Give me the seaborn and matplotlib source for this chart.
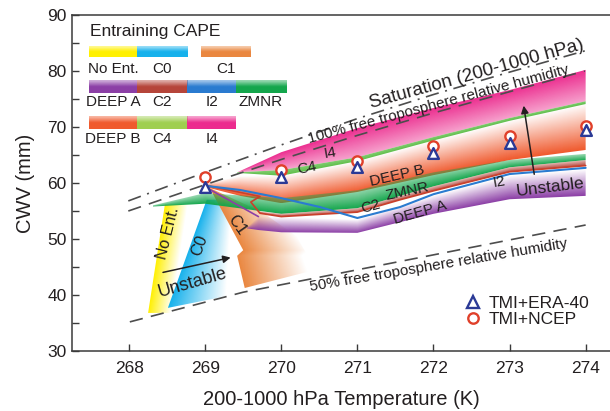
import numpy as np
import pandas as pd
import matplotlib
matplotlib.use("Agg")
import matplotlib.pyplot as plt
import seaborn as sns
from matplotlib.patches import Polygon
from matplotlib.colors import to_rgb
from matplotlib.lines import Line2D

# ---------------- data ----------------
T_OBS = [269, 270, 271, 272, 273, 274]
CWV_ERA40 = [59.3, 61.1, 62.9, 65.4, 67.1, 69.5]
CWV_NCEP = [61.1, 62.3, 63.9, 66.6, 68.4, 70.2]

SAT_T = [267.99, 269, 270, 271, 272, 273, 273.99]
SAT_CWV = [56.8, 61.9, 66.8, 71.5, 75.8, 79.8, 83.6]
RH100_T = [267.99, 269, 270, 271, 272, 273, 273.99]
RH100_CWV = [55.0, 59.7, 64.2, 68.5, 72.5, 76.3, 80.0]
RH50_T = [268.01, 269.5, 274.0]
RH50_CWV = [35.2, 40.5, 52.5]

# bands along temperature: (T, lower CWV, upper CWV)
I4_T = [269.42, 270, 271, 272, 273, 274]
I4_LO = [61.9, 62.3, 64.6, 68.2, 71.6, 74.6]
I4_HI = [61.9, 65.5, 69.8, 73.4, 76.6, 80.2]
C4_LO = [61.8, 61.3, 63.9, 67.6, 71.1, 74.1]

DB_T = [269, 269.46, 270, 271, 272, 273, 274]
DB_LO = [59.3, 57.7, 56.4, 58.4, 61.4, 64.1, 65.9]
DB_HI = [59.9, 61.2, 61.3, 63.9, 67.6, 71.1, 74.1]

ZM_T = [268.31, 269, 270, 271, 271.56, 272, 273, 274]
ZM_LO = [55.8, 56.3, 54.5, 55.5, 57.7, 59.4, 62.8, 64.1]
ZM_HI = [56.0, 58.2, 57.3, 58.7, 60.5, 61.9, 64.1, 65.2]

C2_T = [269.72, 270, 271, 271.56, 272, 273, 274]
C2_LO = [54.6, 54.0, 54.8, 57.0, 58.6, 62.0, 63.1]
C2_HI = [54.9, 54.5, 55.5, 57.7, 59.4, 62.8, 64.1]
C2L_T = [269.0, 269.72, 269.6, 269.72, 270, 271, 271.56, 272, 273, 274]
C2L_CWV = [59.6, 57.6, 56.6, 54.6, 54.0, 54.8, 57.0, 58.6, 62.0, 63.1]

I2_T = [269.0, 269.46, 270, 270.51, 271, 271.56, 272, 273, 274]
I2_CWV = [59.5, 58.75, 57.3, 55.7, 53.75, 55.7, 58.0, 61.6, 62.7]

DA_T = [269.55, 269.7, 270, 271, 272, 273, 274]
DA_LO = [51.9, 51.6, 51.2, 51.1, 54.5, 57.1, 57.7]
DA_HI = [52.1, 54.0, 53.9, 53.5, 57.8, 61.3, 62.4]
DAL_T = [269.0, 269.7]
DAL_CWV = [59.3, 54.0]

# bands along CWV: (CWV, left T, width)
NE_CWV = [36.8, 56.1]
NE_LEFT = [268.25, 268.47]
NE_W = [0.3, 0.3]

C0_CWV = [37.7, 57.0]
C0_LEFT = [268.51, 269.02]
C0_W = [0.75, 0.32]
C0_POLY_T = [268.51, 269.02, 269.36, 269.5]
C0_POLY_CWV = [37.7, 57.0, 57.0, 40.4]

C1_CWV = [41.25, 47.0, 48.0, 59.1]
C1_LEFT = [269.52, 269.42, 269.5, 269.06]
C1_W = [0.9, 0.85, 0.85, 0.65]
C1_POLY_T = [269.06, 269.5, 269.42, 269.52, 270.45, 270.2, 269.75]
C1_POLY_CWV = [59.1, 48.0, 47.0, 41.25, 44.5, 50.5, 54.8]

COLORS = {
    "No Ent.": "#fff000", "C0": "#16b1ec", "C1": "#ea8740",
    "DEEP A": "#8c3fa6", "C2": "#b6453a", "I2": "#2a7bd0", "ZMNR": "#14a64c",
    "DEEP B": "#f05a2e", "C4": "#9fcf50", "I4": "#ec2b8e",
}
LEGEND_ROWS = [["No Ent.", "C0", None, "C1"],
               ["DEEP A", "C2", "I2", "ZMNR"],
               ["DEEP B", "C4", "I4"]]

TXT = "#231f20"

# ---------------- style ----------------
sns.set_theme(style="ticks")
plt.rcParams["font.family"] = ["Liberation Sans", "DejaVu Sans"]
plt.rcParams["axes.linewidth"] = 1.1
plt.rcParams["axes.edgecolor"] = "#3a3a3a"

fig = plt.figure(figsize=(6.1, 4.11), dpi=100)
ax = fig.add_axes([72 / 610, 1 - 351 / 411, 538 / 610, 336 / 411])


def clip_image(im, verts):
    patch = Polygon(verts, closed=True, facecolor="none", edgecolor="none",
                    transform=ax.transData)
    ax.add_patch(patch)
    im.set_clip_path(patch)


def band_x(t, lo, hi, color, sat="lo", fade=1.0, z=2):
    t, lo, hi = map(lambda a: np.asarray(a, float), (t, lo, hi))
    X = np.linspace(t.min(), t.max(), 500)
    Y = np.linspace(min(lo.min(), hi.min()), max(lo.max(), hi.max()), 300)
    L = np.interp(X, t, lo)
    H = np.interp(X, t, hi)
    frac = np.clip((Y[:, None] - L[None, :]) / np.maximum(H - L, 1e-3)[None, :], 0, 1)
    if sat == "hi":
        frac = 1 - frac
    img = np.empty((len(Y), len(X), 4))
    img[..., :3] = to_rgb(color)
    img[..., 3] = 1 - fade * frac
    im = ax.imshow(img, extent=(X[0], X[-1], Y[0], Y[-1]), origin="lower",
                   aspect="auto", interpolation="bilinear", zorder=z)
    verts = np.column_stack([np.r_[t, t[::-1]], np.r_[lo, hi[::-1]]])
    clip_image(im, verts)


def band_y(y, left, width, color, poly=None, fade=1.0, z=2):
    y, left, width = map(lambda a: np.asarray(a, float), (y, left, width))
    if poly is None:
        verts = np.column_stack([np.r_[left, (left + width)[::-1]], np.r_[y, y[::-1]]])
    else:
        verts = np.column_stack(poly)
    X = np.linspace(verts[:, 0].min(), verts[:, 0].max(), 300)
    Y = np.linspace(verts[:, 1].min(), verts[:, 1].max(), 400)
    L = np.interp(Y, y, left)
    W = np.interp(Y, y, width)
    frac = np.clip((X[None, :] - L[:, None]) / W[:, None], 0, 1)
    img = np.empty((len(Y), len(X), 4))
    img[..., :3] = to_rgb(color)
    img[..., 3] = 1 - fade * frac
    im = ax.imshow(img, extent=(X[0], X[-1], Y[0], Y[-1]), origin="lower",
                   aspect="auto", interpolation="bilinear", zorder=z)
    clip_image(im, verts)


# ---------------- shaded regions ----------------
band_y(NE_CWV, NE_LEFT, NE_W, COLORS["No Ent."], z=2)
band_y(C0_CWV, C0_LEFT, C0_W, COLORS["C0"], poly=(C0_POLY_T, C0_POLY_CWV), z=2.1)
band_y(C1_CWV, C1_LEFT, C1_W, COLORS["C1"], poly=(C1_POLY_T, C1_POLY_CWV), z=2.2)
band_x(DB_T, DB_LO, DB_HI, COLORS["DEEP B"], sat="lo", fade=1.0, z=2.3)
band_x(ZM_T, ZM_LO, ZM_HI, COLORS["ZMNR"], sat="lo", fade=0.55, z=2.4)
band_x(C2_T, C2_LO, C2_HI, COLORS["C2"], sat="lo", fade=0.6, z=2.5)
band_x(DA_T, DA_LO, DA_HI, COLORS["DEEP A"], sat="lo", fade=1.0, z=2.6)
band_x(I4_T, I4_LO, I4_HI, COLORS["I4"], sat="hi", fade=0.55, z=2.7)
band_x(I4_T, C4_LO, I4_LO, "#5fbf4a", sat="lo", fade=0.2, z=2.8)

# ---------------- lines ----------------
dash_kw = dict(color="#4d4d4d", lw=1.2, zorder=4)
sns.lineplot(x=SAT_T, y=SAT_CWV, ax=ax, estimator=None, ls=(0, (8, 4, 1.2, 4)), **dash_kw)
sns.lineplot(x=RH100_T, y=RH100_CWV, ax=ax, estimator=None, ls=(0, (8, 5)), **dash_kw)
sns.lineplot(x=RH50_T, y=RH50_CWV, ax=ax, estimator=None, ls=(0, (8, 5)), **dash_kw)

sns.lineplot(x=C2L_T, y=C2L_CWV, ax=ax, estimator=None, sort=False,
             color="#c9402c", lw=1.2, zorder=3)
sns.lineplot(x=I2_T, y=I2_CWV, ax=ax, estimator=None, sort=False,
             color=COLORS["I2"], lw=1.5, zorder=3.1)
sns.lineplot(x=DAL_T, y=DAL_CWV, ax=ax, estimator=None,
             color=COLORS["DEEP A"], lw=1.2, zorder=3)

# ---------------- observations ----------------
sns.scatterplot(x=T_OBS, y=CWV_NCEP, ax=ax, marker="o", s=55, color="white",
                edgecolor="#e0402a", linewidth=1.7, zorder=10)
sns.scatterplot(x=T_OBS, y=CWV_ERA40, ax=ax, marker="^", s=60, color="white",
                edgecolor="#2b3a96", linewidth=1.7, zorder=11)

# ---------------- annotations ----------------
def label(x, y, s, rot=0, size=11, **kw):
    ax.text(x, y, s, rotation=rot, fontsize=size, color=TXT, ha="center",
            va="center", rotation_mode="anchor", zorder=8, **kw)


label(272.57, 79.5, "Saturation (200-1000 hPa)", rot=15.5, size=13.5)
label(272.07, 74.0, "100% free troposphere relative humidity", rot=15, size=11)
label(272.07, 45.36, "50% free troposphere relative humidity", rot=9.6, size=11)
label(268.51, 51.07, "No Ent.", rot=76, size=11.5)
label(268.92, 48.93, "C0", rot=70, size=12)
label(269.42, 52.5, "C1", rot=-55, size=12)
label(270.34, 62.68, "C4", rot=12, size=11)
label(270.64, 65.36, "I4", rot=10, size=11)
label(271.52, 61.25, "DEEP B", rot=13, size=11)
label(271.65, 58.57, "ZMNR", rot=12, size=11)
label(271.17, 55.71, "C2", rot=15, size=11)
label(271.82, 54.64, "DEEP A", rot=16, size=11)
label(272.87, 60.18, "I2", rot=10, size=11)
label(268.84, 42.14, "Unstable", rot=16, size=13)
label(273.54, 59.29, "Unstable", rot=7, size=12.5)

arrow_kw = dict(arrowstyle="-|>", color=TXT, lw=1.1, mutation_scale=11)
ax.annotate("", xy=(269.37, 46.79), xytext=(268.41, 43.93), arrowprops=arrow_kw, zorder=8)
ax.annotate("", xy=(273.18, 74.3), xytext=(273.33, 61.07), arrowprops=arrow_kw, zorder=8)

# ---------------- Entraining CAPE key ----------------
ax.text(0.0335, 0.952, "Entraining CAPE", transform=ax.transAxes, fontsize=12.5,
        color=TXT, ha="left", va="center", zorder=9)
col_x = [0.0316, 0.1208, 0.2138, 0.3048, 0.3978]
row_y = [(0.875, 0.905), (0.768, 0.8065), (0.661, 0.699)]
lab_y = [0.8393, 0.741, 0.631]
c1_x = (0.2398, 0.3327)
for r, row in enumerate(LEGEND_ROWS):
    y0, y1 = row_y[r]
    for c, name in enumerate(row):
        if name is None:
            continue
        if r == 0 and c == 3:
            x0, x1 = c1_x
        else:
            x0, x1 = col_x[c], col_x[c + 1]
        img = np.empty((20, 2, 4))
        img[..., :3] = to_rgb(COLORS[name])
        a = np.clip(np.linspace(1.6, 0.4, 20), 0.45, 1.0)
        img[..., 3] = a[:, None]
        ax.imshow(img, extent=(x0, x1, y0, y1), transform=ax.transAxes,
                  origin="lower", aspect="auto", interpolation="bilinear", zorder=9)
        ax.text((x0 + x1) / 2, lab_y[r], name, transform=ax.transAxes,
                fontsize=11, color=TXT, ha="center", va="center", zorder=9)

# ---------------- observation legend ----------------
h1 = Line2D([], [], marker="^", ls="none", mec="#2b3a96", mfc="white", mew=1.7, ms=8)
h2 = Line2D([], [], marker="o", ls="none", mec="#e0402a", mfc="white", mew=1.7, ms=7.5)
leg = ax.legend([h1, h2], ["TMI+ERA-40", "TMI+NCEP"], loc="upper left",
                bbox_to_anchor=(0.732, 0.165), frameon=False, fontsize=12.5,
                handlelength=0.8, handletextpad=0.5, labelspacing=0.05,
                borderaxespad=0, borderpad=0)
for t in leg.get_texts():
    t.set_color(TXT)

# ---------------- axes ----------------
ax.set_xlim(267.25, 274.32)
ax.set_ylim(30, 90)
ax.set_xticks([268, 269, 270, 271, 272, 273, 274])
ax.set_yticks([30, 40, 50, 60, 70, 80, 90])
ax.set_yticks([35, 45, 55, 65, 75, 85], minor=True)
ax.tick_params(axis="both", which="both", direction="in", length=5, width=1,
               color="#3a3a3a", labelsize=12.5, labelcolor=TXT)
ax.tick_params(axis="x", pad=7)
ax.tick_params(axis="y", pad=4)
ax.spines["right"].set_visible(False)
ax.set_xlabel("200-1000 hPa Temperature (K)", fontsize=14.5, color=TXT, labelpad=10)
ax.set_ylabel("CWV (mm)", fontsize=14.5, color=TXT, labelpad=9)
ax.grid(False)
ax.set_facecolor("white")

fig.savefig("out.png", dpi=100, facecolor="white")
